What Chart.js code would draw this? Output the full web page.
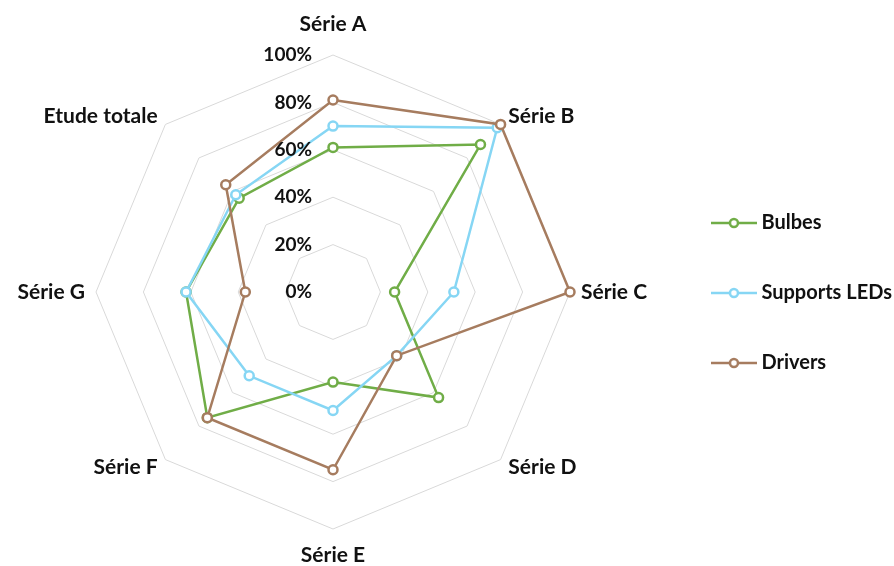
<!DOCTYPE html>
<html>
<head>
<meta charset="utf-8">
<script src="https://cdn.jsdelivr.net/npm/chart.js@4.4.0/dist/chart.umd.min.js"></script>
<style>
    html, body { margin: 0; padding: 0; background: #fff; }
</style>
</head>
<body>
<canvas id="chart1" width="894" height="566"></canvas>
<script>
// categories (clockwise from top)
var categories = ['Série A', 'Série B', 'Série C', 'Série D', 'Série E', 'Série F', 'Série G', 'Etude totale'];

// values in %
var bulbes = [61, 88, 26, 63, 38, 75, 62, 56];
var supportsLeds = [70, 98, 51, 38, 50, 50, 62, 58];
var drivers = [81, 100, 100, 38, 75, 75, 37, 64];

var seriesNames = ['Bulbes', 'Supports LEDs', 'Drivers'];
var seriesColors = ['#70AD47', '#86D6F4', '#A67C5F'];

// radial axis
var tickMin = 0;
var tickMax = 100;
var tickStep = 20;

Chart.defaults.font.family = 'Lato';

// legend marker: short line with a hollow circle
function legendMark(color) {
    var c = document.createElement('canvas');
    c.width = 46;
    c.height = 12;
    var g = c.getContext('2d');
    g.strokeStyle = color;
    g.lineWidth = 2.5;
    g.beginPath();
    g.moveTo(0, 6);
    g.lineTo(46, 6);
    g.stroke();
    g.fillStyle = '#fff';
    g.beginPath();
    g.arc(23, 6, 4, 0, Math.PI * 2);
    g.fill();
    g.stroke();
    return c;
}
var marks = seriesColors.map(legendMark);

// category names and % labels drawn next to the web
var radarLabels = {
    id: 'radarLabels',
    afterDraw: function (chart) {
        var scale = chart.scales.r;
        var ctx = chart.ctx;
        ctx.save();
        ctx.fillStyle = '#111';
        ctx.textBaseline = 'middle';
        ctx.font = 'bold 21px Lato';
        categories.forEach(function (label, i) {
            var deg = Math.round(i * 360 / categories.length);
            var gap = 11;
            if (deg === 0) gap = 31;
            if (deg === 180) gap = 26;
            var p = scale.getPointPosition(i, scale.drawingArea + gap);
            if (deg === 0 || deg === 180) {
                ctx.textAlign = 'center';
            } else if (deg < 180) {
                ctx.textAlign = 'left';
            } else {
                ctx.textAlign = 'right';
            }
            ctx.fillText(label, p.x, p.y);
        });
        ctx.font = 'bold 19px Lato';
        ctx.textAlign = 'right';
        scale.ticks.forEach(function (t) {
            var y = scale.yCenter - scale.getDistanceFromCenterForValue(t.value);
            ctx.fillText(t.value + '%', scale.xCenter - 21, y);
        });
        ctx.restore();
    }
};

var ctxChart1 = document.getElementById('chart1').getContext('2d');
var chart1 = new Chart(ctxChart1, {
    type: 'radar',
    plugins: [radarLabels],
    data: {
        labels: categories,
        datasets: [{
            label: seriesNames[0],
            data: bulbes,
            borderColor: seriesColors[0],
            order: 3
        }, {
            label: seriesNames[1],
            data: supportsLeds,
            borderColor: seriesColors[1],
            order: 2
        }, {
            label: seriesNames[2],
            data: drivers,
            borderColor: seriesColors[2],
            order: 1
        }]
    },
    options: {
        responsive: false,
        animation: false,
        layout: {
            padding: { top: 20, right: -8 }
        },
        elements: {
            line: {
                borderWidth: 2.5,
                fill: false,
                tension: 0
            },
            point: {
                radius: 4.5,
                borderWidth: 2.5,
                backgroundColor: '#fff'
            }
        },
        plugins: {
            tooltip: { enabled: false },
            legend: {
                position: 'right',
                align: 'center',
                labels: {
                    usePointStyle: true,
                    pointStyleWidth: 35,
                    padding: 50,
                    color: '#111',
                    font: { size: 20, weight: 'bold' },
                    sort: function (a, b) {
                        return a.datasetIndex - b.datasetIndex;
                    },
                    generateLabels: function (chart) {
                        var items = Chart.defaults.plugins.legend.labels.generateLabels(chart);
                        items.forEach(function (it) {
                            it.pointStyle = marks[it.datasetIndex];
                        });
                        return items;
                    }
                }
            }
        },
        scales: {
            r: {
                min: tickMin,
                max: tickMax,
                ticks: {
                    stepSize: tickStep,
                    display: false
                },
                pointLabels: { display: false },
                angleLines: { display: false },
                grid: {
                    color: '#D9D9D9',
                    lineWidth: 1
                },
                afterFit: function (scale) {
                    // place the web like the original
                    scale.xCenter = 333;
                    scale.yCenter = 292;
                    scale.drawingArea = 237;
                }
            }
        }
    }
});
</script>
</body>
</html>
